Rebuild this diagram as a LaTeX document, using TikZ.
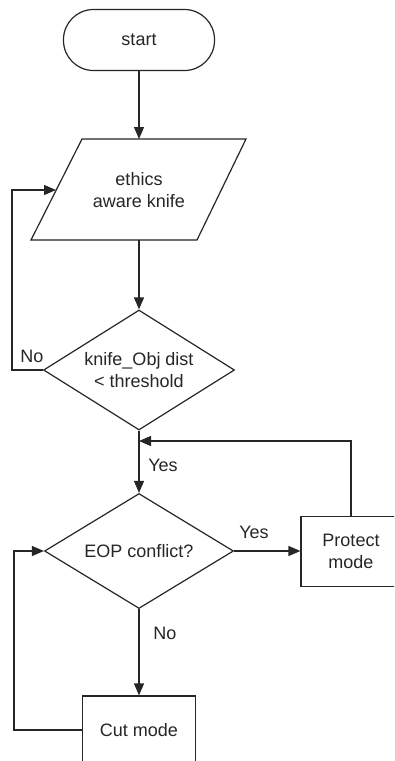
\documentclass[tikz,border=0pt]{standalone}
\usepackage{fontspec}
\setmainfont{Liberation Sans}
\usetikzlibrary{shapes.geometric,arrows.meta}
\begin{document}
\begin{tikzpicture}[x=1pt,y=-1pt,
  every node/.style={font=\fontsize{18}{22}\selectfont, text=black!85},
  line/.style={draw=black!85, line width=1.2pt},
  arr/.style={line, -{Triangle[length=12pt,width=10pt]}},
  term/.style={line, rectangle, rounded corners=30pt, minimum width=151pt, minimum height=61pt},
  decision/.style={line, diamond, inner sep=0pt, align=center},
  proc/.style={line, rectangle, align=center, inner sep=0pt}]
\useasboundingbox (0,0) rectangle (394,761);
\clip (0,0) rectangle (394,761);
\fill[white] (0,0) rectangle (394,761);

\node[term] (start) at (139,40) {start};

\draw[line] (82,139) -- (246,139) -- (197,240) -- (31,240) -- cycle;
\node[align=center] (ethics) at (139,190) {ethics\\aware knife};
\coordinate (paratop) at (139,139);
\coordinate (parabot) at (139,240);
\coordinate (paraleft) at (56,190);

\node[decision, minimum width=191pt, minimum height=120pt, aspect=1.59] (d1) at (139,370) {knife\_Obj dist\\< threshold};
\node[decision, minimum width=189pt, minimum height=115pt, aspect=1.64] (d2) at (139,551) {EOP conflict?};
\node[proc, minimum width=100pt, minimum height=70pt] (protect) at (351,551.5) {Protect\\mode};
\node[proc, minimum width=113pt, minimum height=68pt] (cut) at (139,730) {Cut mode};
\coordinate (join) at (139,441);

\draw[arr] (start.south) -- (paratop);
\draw[arr] (parabot) -- (d1.north);
\draw[arr] (d1.west) -- (12,370) |- (paraleft);
\draw[arr] (d1.south) -- (d2.north);
\draw[arr] (d2.east) -- (d2.east -| protect.west);
\draw[arr] (protect.north) |- (join);
\draw[arr] (d2.south) -- (cut.north);
\draw[arr] (cut.west) -- (14,730) |- (d2.west);

\node (lno1) at (32,356) {No};
\node (lyes1) at (163,465) {Yes};
\node (lyes2) at (254,532) {Yes};
\node (lno2) at (165,633) {No};
\end{tikzpicture}
\end{document}
